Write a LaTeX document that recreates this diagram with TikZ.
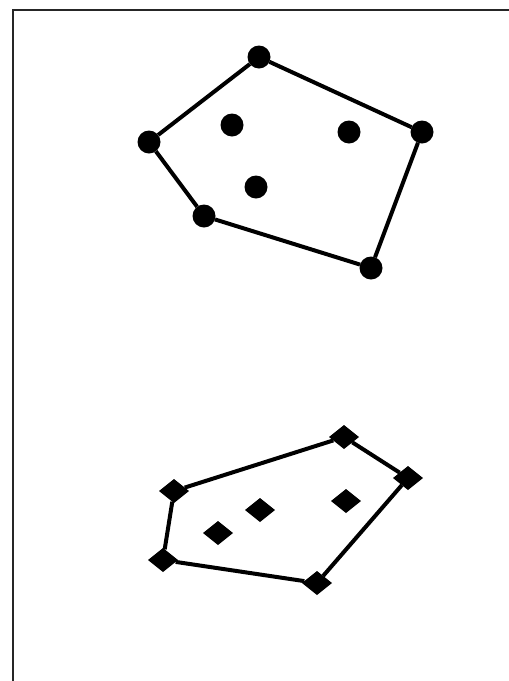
\documentclass[tikz,border=0pt]{standalone}
\usepackage{xcolor}
\usepackage{tikz}
\usetikzlibrary{shapes.geometric}
\definecolor{ptdraw}{HTML}{000000}
\tikzset{
  pt/.style={inner sep=0pt, outer sep=0pt, fill=ptdraw, draw=none},
  dot/.style={pt, circle, minimum size=23pt},
  dia/.style={pt, diamond, minimum width=30pt, minimum height=24pt},
  hull/.style={line width=4pt, draw=ptdraw},
  frame/.style={line width=2pt, draw=black!85},
}

\begin{document}
\begin{tikzpicture}[x=1pt, y=-1pt]
  \useasboundingbox (0,0) rectangle (509,681);
  \clip (0,0) rectangle (509,681);
  \draw[frame] (13,10) rectangle (530,700);

  % upper set
  \node[dot] (cv1) at (259,57) {};
  \node[dot] (cv2) at (422,132) {};
  \node[dot] (cv3) at (371,268) {};
  \node[dot] (cv4) at (204,216) {};
  \node[dot] (cv5) at (149,142) {};
  \node[dot] (ci1) at (232,125) {};
  \node[dot] (ci2) at (349,132) {};
  \node[dot] (ci3) at (256,187) {};

  \draw[hull] (cv1) -- (cv2) -- (cv3) -- (cv4) -- (cv5) -- (cv1);

  % lower set
  \node[dia] (dv1) at (344,437) {};
  \node[dia] (dv2) at (408,478) {};
  \node[dia] (dv3) at (317,583) {};
  \node[dia] (dv4) at (163,560) {};
  \node[dia] (dv5) at (174,491) {};
  \node[dia] (di1) at (346,501) {};
  \node[dia] (di2) at (260,510) {};
  \node[dia] (di3) at (218,533) {};

  \draw[hull] (dv1) -- (dv2) -- (dv3) -- (dv4) -- (dv5) -- (dv1);
\end{tikzpicture}
\end{document}
